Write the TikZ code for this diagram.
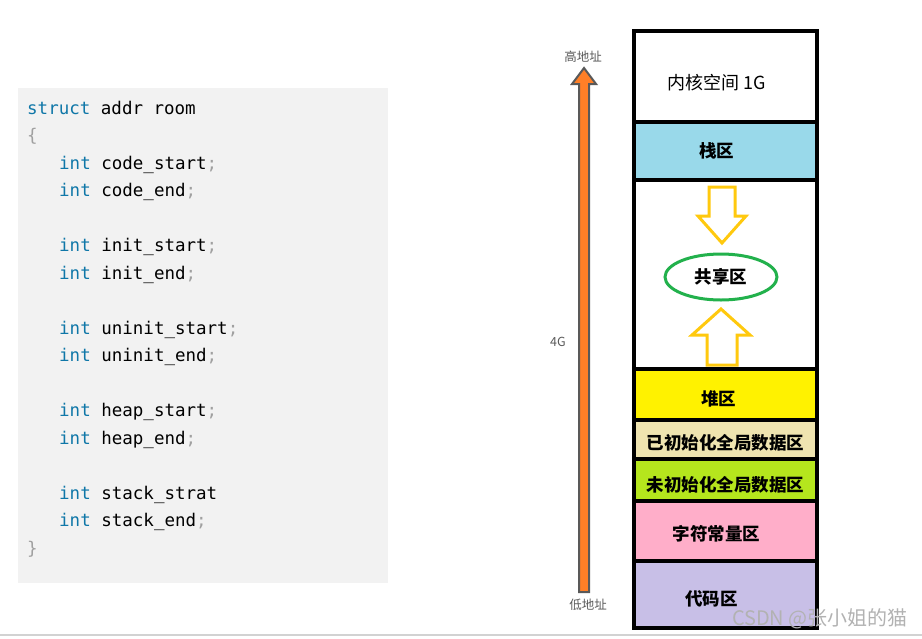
\documentclass[tikz,border=0pt]{standalone}
\usepackage{fontspec}
\usetikzlibrary{positioning,shapes.geometric}
\newfontfamily\cjk{Noto Sans CJK SC}
\newfontfamily\codefont{DejaVu Sans Mono}

\definecolor{codebg}{HTML}{F2F2F2}
\definecolor{kwblue}{HTML}{0F77A8}
\definecolor{punctgray}{HTML}{A0A0A0}
\definecolor{stackblue}{HTML}{99D9EA}
\definecolor{heapyellow}{HTML}{FFF200}
\definecolor{initwheat}{HTML}{EFE4B0}
\definecolor{uninitgreen}{HTML}{B5E61D}
\definecolor{constpink}{HTML}{FFAEC9}
\definecolor{codelilac}{HTML}{C8BFE7}
\definecolor{arroworange}{HTML}{FF7F27}
\definecolor{arrowyellow}{HTML}{FFC90E}
\definecolor{ringgreen}{HTML}{22B14C}
\definecolor{addrgray}{HTML}{595959}

\newcommand{\kw}[1]{\textcolor{kwblue}{#1}}
\newcommand{\pn}[1]{\textcolor{punctgray}{#1}}
% move a centred label left by #1 and down by #2
\newcommand{\lft}[3]{\hspace*{-#1pt}\raisebox{-#2pt}[\height][\depth]{#3}}

\tikzset{
  codeline/.style={anchor=base west, inner sep=0pt, font=\codefont\fontsize{17.5}{19}\selectfont},
  memblk/.style={draw, line width=4pt, outer sep=0pt, minimum width=183pt, inner sep=0pt,
                 font=\cjk\bfseries\fontsize{17.5}{20}\selectfont},
  addrlbl/.style={text=addrgray, inner sep=1pt, font=\cjk\fontsize{12.5}{14}\selectfont},
  growarrow/.style={draw=arrowyellow, line width=3pt, line join=miter},
}

\begin{document}
\begin{tikzpicture}[x=1pt,y=-1pt]
  \useasboundingbox (0,0) rectangle (922,638);

  % Code block
  \fill[codebg] (18,88) rectangle (388,583);
  \node[codeline] (l1)  at (27,114)  {\kw{struct} addr room};
  \node[codeline] (l2)  at (27,141)  {\pn{\{}};
  \node[codeline] (l3)  at (59,169)  {\kw{int} code\_start\pn{;}};
  \node[codeline] (l4)  at (59,196)  {\kw{int} code\_end\pn{;}};
  \node[codeline] (l5)  at (59,251)  {\kw{int} init\_start\pn{;}};
  \node[codeline] (l6)  at (59,279)  {\kw{int} init\_end\pn{;}};
  \node[codeline] (l7)  at (59,334)  {\kw{int} uninit\_start\pn{;}};
  \node[codeline] (l8)  at (59,361)  {\kw{int} uninit\_end\pn{;}};
  \node[codeline] (l9)  at (59,416)  {\kw{int} heap\_start\pn{;}};
  \node[codeline] (l10) at (59,444)  {\kw{int} heap\_end\pn{;}};
  \node[codeline] (l11) at (59,499)  {\kw{int} stack\_strat};
  \node[codeline] (l12) at (59,526)  {\kw{int} stack\_end\pn{;}};
  \node[codeline] (l13) at (27,554)  {\pn{\}}};

  % Memory layout
  \node[memblk, anchor=north, minimum height=91pt, font=\cjk\fontsize{18}{20}\selectfont]
       (kernel) at (725.5,31) {\lft{18}{6}{内核空间 1G}};
  \node[memblk, fill=stackblue, minimum height=58pt, below=0pt of kernel] (stack) {\lft{18}{0}{栈区}};
  \node[memblk, fill=white, minimum height=189pt, below=0pt of stack] (shared) {};
  \node[memblk, fill=heapyellow, minimum height=51pt, below=0pt of shared] (heap) {\lft{14}{4}{堆区}};
  \node[memblk, fill=initwheat, minimum height=39pt, below=0pt of heap] (init) {\lft{0}{3}{已初始化全局数据区}};
  \node[memblk, fill=uninitgreen, minimum height=42pt, below=0pt of init] (uninit) {\lft{0}{5}{未初始化全局数据区}};
  \node[memblk, fill=constpink, minimum height=60pt, below=0pt of uninit] (const) {\lft{18}{3}{字符常量区}};
  \node[memblk, fill=codelilac, minimum height=67pt, below=0pt of const] (code) {\lft{28}{4}{代码区}};

  % Shared area
  \node[draw=ringgreen, line width=3pt, ellipse, minimum width=112pt, minimum height=46pt,
        inner sep=0pt, font=\cjk\bfseries\fontsize{17.5}{20}\selectfont]
       (share) at (721,277) {共享区};
  \draw[growarrow] (709,187) -- (735,187) -- (735,216) -- (746,216) -- (722,243)
                   -- (698,216) -- (709,216) -- cycle;
  \draw[growarrow] (707,365) -- (737,365) -- (737,335) -- (750,335) -- (721,309)
                   -- (692,335) -- (707,335) -- cycle;

  % Address axis
  \node[addrlbl] (high) at (583,57)  {高地址};
  \node[addrlbl] (low)  at (588,605) {低地址};
  \node[addrlbl] (size) at (558,342) {4G};
  \filldraw[fill=arroworange, draw=addrgray, line width=2pt, line join=miter]
    (579,592) -- (579,84) -- (572,84) -- (584,68) -- (596,84) -- (589,84) -- (589,592) -- cycle;

  % Footer
  \draw[gray!35, line width=1.5pt] (0,635) -- (922,635);
  \node[text=gray!60, inner sep=0pt, anchor=east, font=\cjk\fontsize{20}{22}\selectfont]
       (mark) at (908,619) {CSDN @张小姐的猫};
\end{tikzpicture}
\end{document}
